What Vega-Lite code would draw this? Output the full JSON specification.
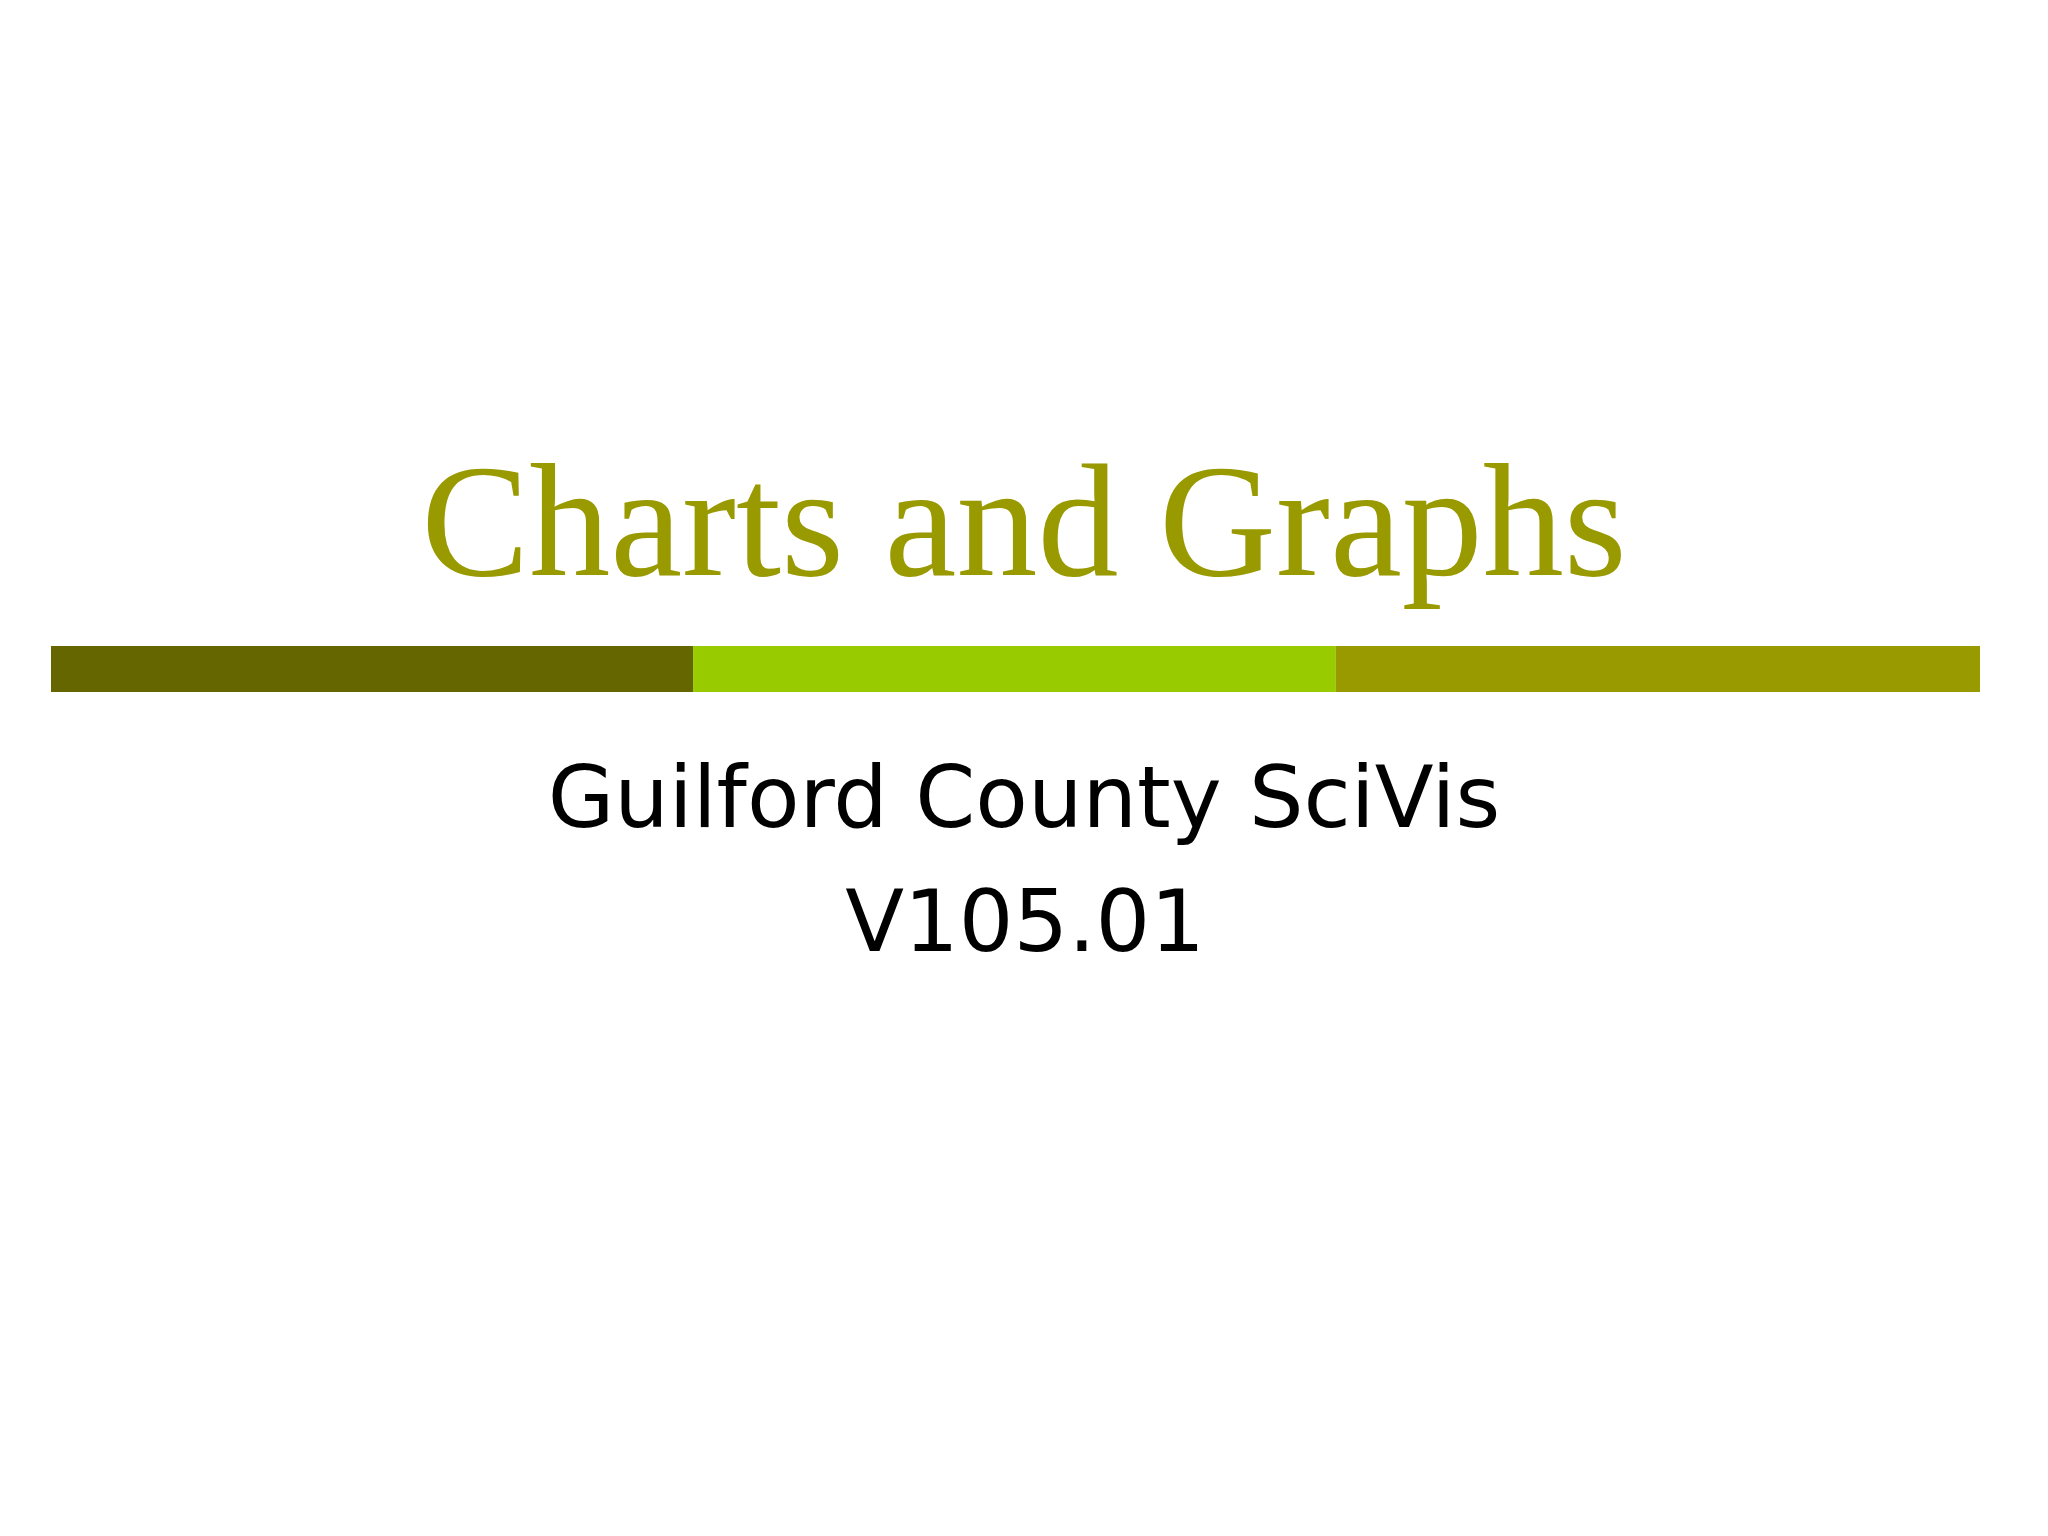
{
  "$schema": "https://vega.github.io/schema/vega-lite/v6.json",
  "autosize": {"type": "fit", "contains": "padding"},
  "width": 2048,
  "height": 1536,
  "padding": 0,
  "background": "#ffffff",
  "config": {"view": {"stroke": null}},
  "datasets": {
    "segments": [
      {"segment": "dark olive", "start": 2.49, "end": 33.84},
      {"segment": "lime", "start": 33.84, "end": 65.23},
      {"segment": "olive", "start": 65.23, "end": 96.68}
    ],
    "texts": [
      {"role": "title", "text": "Charts and Graphs"},
      {"role": "subtitle", "text": "Guilford County SciVis"},
      {"role": "version", "text": "V105.01"}
    ]
  },
  "layer": [
    {
      "data": {"name": "segments"},
      "mark": {"type": "rect"},
      "encoding": {
        "x": {"field": "start", "type": "quantitative", "scale": {"domain": [0, 100]}, "axis": null},
        "x2": {"field": "end"},
        "y": {"datum": 42.06, "type": "quantitative", "scale": {"domain": [0, 100], "reverse": true}, "axis": null},
        "y2": {"datum": 45.05},
        "color": {"field": "segment", "type": "nominal", "scale": {"domain": ["dark olive", "lime", "olive"], "range": ["#666600", "#99cc00", "#999900"]}, "legend": null}
      }
    },
    {
      "data": {"name": "texts"},
      "transform": [{"filter": "datum.role === 'title'"}],
      "mark": {"type": "text", "font": "Liberation Serif", "fontSize": 162, "color": "#999900", "align": "center", "baseline": "alphabetic"},
      "encoding": {
        "x": {"datum": 50, "type": "quantitative"},
        "y": {"datum": 37.43, "type": "quantitative"},
        "text": {"field": "text"}
      }
    },
    {
      "data": {"name": "texts"},
      "transform": [{"filter": "datum.role === 'subtitle'"}],
      "mark": {"type": "text", "font": "DejaVu Sans", "fontSize": 86, "color": "#000000", "align": "center", "baseline": "alphabetic"},
      "encoding": {
        "x": {"datum": 50, "type": "quantitative"},
        "y": {"datum": 53.84, "type": "quantitative"},
        "text": {"field": "text"}
      }
    },
    {
      "data": {"name": "texts"},
      "transform": [{"filter": "datum.role === 'version'"}],
      "mark": {"type": "text", "font": "DejaVu Sans", "fontSize": 86, "color": "#000000", "align": "center", "baseline": "alphabetic"},
      "encoding": {
        "x": {"datum": 50.05, "type": "quantitative"},
        "y": {"datum": 61.91, "type": "quantitative"},
        "text": {"field": "text"}
      }
    }
  ]
}
